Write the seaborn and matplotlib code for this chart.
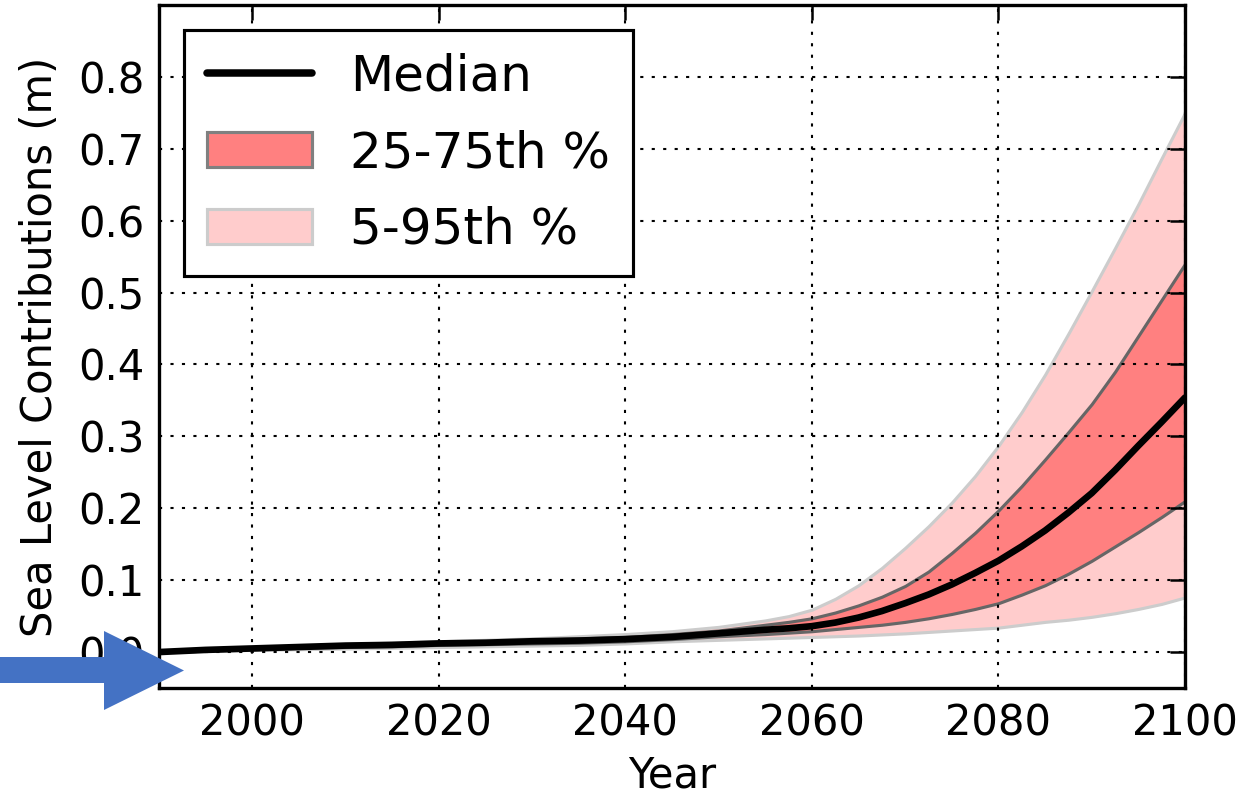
import numpy as np
import pandas as pd
import seaborn as sns
import matplotlib
matplotlib.use("Agg")
import matplotlib.pyplot as plt
from matplotlib.patches import Patch, Polygon
from matplotlib.legend_handler import HandlerLine2DCompound

# Projected sea level contribution percentiles (m)
years = [1990, 1995, 2000, 2005, 2010, 2015, 2020, 2025, 2030, 2035, 2040, 2045, 2050,
         2055, 2057.5, 2060, 2062.5, 2065, 2067.5, 2070, 2072.5, 2075, 2077.5, 2080,
         2082.5, 2085, 2087.5, 2090, 2092.5, 2095, 2097.5, 2100]
median = [0.000, 0.003, 0.005, 0.007, 0.009, 0.010, 0.012, 0.013, 0.015, 0.016, 0.018, 0.021, 0.026,
          0.031, 0.033, 0.036, 0.041, 0.048, 0.057, 0.068, 0.080, 0.094, 0.110, 0.127,
          0.147, 0.169, 0.194, 0.221, 0.253, 0.287, 0.320, 0.354]
p25 = [0.000, 0.002, 0.004, 0.006, 0.007, 0.008, 0.010, 0.011, 0.012, 0.013, 0.015, 0.018, 0.022,
       0.025, 0.027, 0.029, 0.032, 0.035, 0.038, 0.042, 0.047, 0.053, 0.060, 0.068,
       0.080, 0.093, 0.109, 0.127, 0.147, 0.167, 0.188, 0.210]
p75 = [0.000, 0.004, 0.006, 0.008, 0.010, 0.012, 0.014, 0.015, 0.017, 0.019, 0.021, 0.025, 0.030,
       0.038, 0.042, 0.047, 0.055, 0.065, 0.077, 0.092, 0.112, 0.138, 0.166, 0.197,
       0.231, 0.268, 0.306, 0.345, 0.390, 0.440, 0.490, 0.540]
p5 = [0.000, 0.002, 0.003, 0.004, 0.005, 0.006, 0.007, 0.008, 0.009, 0.010, 0.012, 0.015, 0.017,
      0.019, 0.020, 0.021, 0.022, 0.023, 0.0245, 0.026, 0.028, 0.030, 0.032, 0.034,
      0.038, 0.042, 0.045, 0.049, 0.054, 0.060, 0.067, 0.076]
p95 = [0.000, 0.004, 0.007, 0.009, 0.011, 0.013, 0.015, 0.017, 0.019, 0.022, 0.025, 0.029, 0.035,
       0.044, 0.050, 0.059, 0.074, 0.093, 0.117, 0.145, 0.175, 0.208, 0.245, 0.287,
       0.334, 0.386, 0.443, 0.502, 0.562, 0.623, 0.687, 0.750]

legend_labels = ["Median", "25-75th %", "5-95th %"]
x_ticks = [2000, 2020, 2040, 2060, 2080, 2100]
y_ticks = [0.0, 0.1, 0.2, 0.3, 0.4, 0.5, 0.6, 0.7, 0.8]

df = pd.DataFrame({"Year": years, "median": median,
                   "p5": p5, "p25": p25, "p75": p75, "p95": p95})

sns.set_style("white")
plt.rcParams["font.family"] = ["DejaVu Sans"]
plt.rcParams["font.size"] = 20
plt.rcParams["text.color"] = "black"
plt.rcParams["axes.labelcolor"] = "black"
plt.rcParams["xtick.color"] = "black"
plt.rcParams["ytick.color"] = "black"

fig = plt.figure(figsize=(1255 / 150, 795 / 150), dpi=150)
ax = fig.add_axes([159 / 1255, 1 - 688 / 795, (1185 - 159) / 1255, (688 - 5) / 795])

outer_face, outer_edge = "#FFCCCC", "#CCCCCC"
inner_face, inner_edge = "#FF8080", "#666666"

ax.fill_between(df["Year"], df["p5"], df["p95"], facecolor=outer_face,
                edgecolor=outer_edge, linewidth=1.5, zorder=1)
ax.fill_between(df["Year"], df["p25"], df["p75"], facecolor=inner_face,
                edgecolor=inner_edge, linewidth=1.5, zorder=1.2)
sns.lineplot(data=df, x="Year", y="median", color="black", linewidth=3.2,
             ax=ax, zorder=2, legend=False)
median_line = ax.get_lines()[-1]

ax.set_xlim(1990, 2100)
ax.set_ylim(-0.05, 0.9)
ax.set_xticks(x_ticks)
ax.set_yticks(y_ticks)
ax.set_yticklabels([f"{v:.1f}" for v in y_ticks])
ax.tick_params(axis="both", which="major", direction="in", length=7, width=1.2,
               top=True, right=True, labelsize=20, colors="black", pad=7)
ax.set_xlabel("Year", fontsize=20, labelpad=5, color="black")
ax.set_ylabel("Sea Level Contributions (m)", fontsize=20, labelpad=8, color="black")

ax.set_axisbelow(False)
ax.grid(True, color="black", linestyle=(0, (1.5, 4)), linewidth=1.0)
for sp in ax.spines.values():
    sp.set_visible(True)
    sp.set_color("black")
    sp.set_linewidth(1.6)

handles = [
    median_line,
    Patch(facecolor=inner_face, edgecolor="#808080", linewidth=1.5),
    Patch(facecolor=outer_face, edgecolor=outer_edge, linewidth=1.5),
]
leg = ax.legend(handles, legend_labels, loc="upper left", fontsize=24,
                frameon=True, fancybox=False, framealpha=1, edgecolor="black",
                handlelength=2.1, handletextpad=0.78, borderpad=0.45,
                labelspacing=0.57, borderaxespad=0.5,
                handler_map={median_line: HandlerLine2DCompound()})
leg.get_frame().set_linewidth(1.5)
leg.set_zorder(5)
for t in leg.get_texts():
    t.set_color("black")
leg.get_lines()[0].set_linewidth(3.6)

# Blue pointer arrow at the lower left, drawn in pixel units
arrow_px = [(-5, 657), (104, 657), (104, 631), (184, 670.5),
            (104, 710), (104, 683), (-5, 683)]
arrow_in = [(x / 150, (795 - y) / 150) for x, y in arrow_px]
fig.add_artist(Polygon(arrow_in, closed=True, facecolor="#4472C4",
                       edgecolor="none", transform=fig.dpi_scale_trans, zorder=10))

fig.savefig("out.png", dpi=150)
